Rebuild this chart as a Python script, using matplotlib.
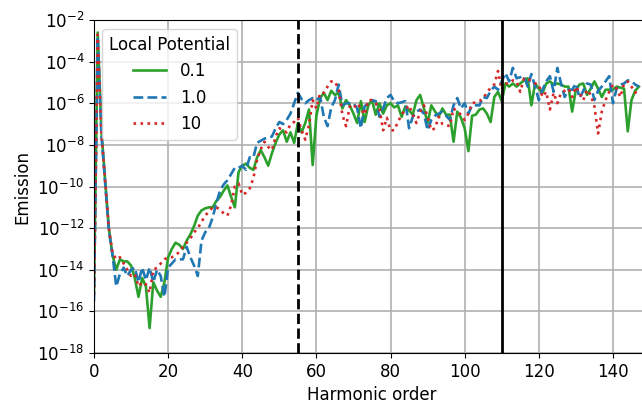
import numpy as np
import matplotlib
matplotlib.use("Agg")
import matplotlib.pyplot as plt
from matplotlib.ticker import NullLocator

# harmonic order and log10(emission)
harmonic = np.arange(0, 148)

log_v01 = [
    -15.0, -2.6, -7.3, -9.7, -12.0, -13.3, -14.0, -13.5, -13.6, -13.6,
    -13.8, -14.4, -15.3, -14.4, -14.8, -16.8, -14.6, -15.0, -15.3, -14.6,
    -13.4, -13.0, -12.7, -12.8, -13.0, -12.6, -12.3, -11.9, -11.4, -11.15,
    -11.05, -11.0, -11.0, -10.7, -10.5, -10.2, -9.95, -10.5, -11.0, -9.3,
    -9.0, -8.9, -9.1, -9.2, -8.6, -8.25, -8.6, -9.0, -8.4, -7.9,
    -7.5, -7.3, -7.85, -7.4, -7.9, -6.95, -7.4, -6.95, -6.3, -8.97,
    -6.6, -5.75, -5.5, -5.85, -5.4, -5.6, -5.5, -6.25, -5.85, -6.1,
    -6.5, -6.95, -5.9, -6.9, -6.1, -5.85, -6.55, -6.0, -6.5, -6.1,
    -6.0, -6.2, -6.1, -6.65, -6.15, -6.35, -6.55, -5.85, -5.6, -6.25,
    -6.95, -6.1, -6.4, -6.65, -6.25, -6.55, -6.55, -7.85, -6.4, -6.7,
    -7.2, -8.3, -6.6, -6.55, -6.3, -6.25, -6.5, -6.9, -5.7, -5.45,
    -5.9, -5.05, -5.2, -5.05, -5.2, -5.05, -4.9, -4.8, -6.1, -5.05,
    -5.3, -5.5, -5.05, -4.95, -5.1, -5.05, -5.1, -5.2, -5.2, -6.4,
    -5.35, -5.1, -5.05, -5.6, -5.3, -4.95, -5.3, -5.7, -5.35, -5.35,
    -5.35, -5.2, -5.25, -5.3, -7.35, -5.85, -5.4, -5.2,
]

log_v1 = [
    -15.5, -2.8, -7.5, -9.8, -12.1, -13.3, -14.8, -14.2, -13.9, -14.3,
    -14.0, -13.9, -14.6, -13.9, -14.5, -13.9, -14.6, -14.0, -14.3, -15.3,
    -13.9, -13.7, -13.5, -13.5, -13.5, -12.9, -13.4, -13.8, -14.3, -12.6,
    -12.2, -12.0, -11.5, -10.8, -10.2, -9.9, -9.7, -9.4, -9.1, -9.1,
    -9.0, -9.2, -8.6, -8.6, -7.9, -7.8, -7.7, -7.65, -7.6, -7.2,
    -6.9, -7.0, -6.8, -6.5, -6.0, -5.5, -5.8, -6.0, -5.85, -5.75,
    -5.85, -5.7, -6.65, -7.1, -6.2, -5.85, -5.1, -6.1, -6.0, -6.0,
    -6.0, -6.25, -7.2, -6.15, -6.0, -5.85, -5.9, -6.65, -6.25, -5.75,
    -5.6, -5.9, -6.0, -5.95, -5.9, -7.2, -6.65, -6.4, -6.3, -6.5,
    -7.3, -6.8, -6.6, -6.5, -6.4, -6.6, -6.8, -6.1, -5.75, -6.25,
    -6.0, -6.5, -6.1, -6.1, -6.1, -5.7, -5.75, -5.4, -5.2, -5.35,
    -4.95, -4.55, -4.95, -4.3, -4.8, -4.75, -4.7, -5.2, -4.6, -5.2,
    -5.85, -5.35, -4.95, -4.7, -5.45, -4.3, -5.05, -5.7, -5.35, -5.35,
    -5.05, -5.75, -5.4, -5.05, -5.1, -5.85, -5.4, -5.2, -4.95, -4.7,
    -6.0, -5.3, -5.1, -5.05, -4.9, -4.95, -5.1, -5.2,
]

log_v10 = [
    -15.2, -2.7, -7.4, -9.7, -12.0, -13.2, -13.5, -13.4, -13.7, -14.0,
    -14.3, -14.2, -14.8, -14.6, -14.7, -15.1, -14.0, -13.9, -13.7, -13.5,
    -13.4, -13.4, -13.3, -13.15, -12.9, -12.7, -12.5, -12.2, -12.0, -11.7,
    -11.4, -11.2, -11.0, -11.0, -11.1, -11.3, -11.4, -10.9, -10.0, -9.85,
    -10.4, -10.3, -10.1, -9.6, -8.7, -8.2, -7.85, -8.1, -8.25, -7.6,
    -7.2, -7.3, -7.4, -7.0, -6.9, -6.7, -7.3, -7.75, -7.05, -5.85,
    -6.25, -5.5, -5.5, -5.2, -4.95, -4.95, -5.35, -6.55, -7.1, -6.15,
    -6.25, -6.0, -6.25, -6.55, -5.85, -5.85, -6.0, -6.25, -7.3, -6.7,
    -7.3, -7.3, -6.9, -6.55, -6.3, -6.1, -6.55, -6.95, -6.4, -6.1,
    -6.65, -7.3, -7.2, -6.65, -7.0, -7.05, -7.1, -6.25, -6.4, -6.55,
    -6.8, -6.5, -6.0, -5.95, -5.9, -5.75, -5.5, -5.25, -5.1, -4.45,
    -5.35, -5.05, -5.05, -4.9, -4.95, -5.45, -4.8, -4.85, -4.9, -5.05,
    -5.1, -5.7, -5.45, -6.3, -5.5, -6.0, -5.5, -5.4, -5.3, -5.7,
    -5.2, -5.5, -5.85, -5.35, -5.6, -6.15, -7.45, -6.4, -5.85, -5.45,
    -5.1, -5.3, -5.7, -5.05, -4.95, -5.2, -5.5, -5.3,
]

labels = ["0.1", "1.0", "10"]
cutoff_dashed = 55
cutoff_solid = 110

plt.rcParams['font.size'] = 12

fig = plt.figure(figsize=(6.42, 4.05), dpi=100)
ax = fig.add_axes([94 / 642, 52 / 405, 556 / 642, 333 / 405])

ax.plot(harmonic, 10.0 ** np.array(log_v01), color="tab:green", lw=1.9, ls="-", label=labels[0])
ax.plot(harmonic, 10.0 ** np.array(log_v1), color="tab:blue", lw=1.9, ls="--", label=labels[1])
ax.plot(harmonic, 10.0 ** np.array(log_v10), color="tab:red", lw=1.9, ls=":", label=labels[2])

ax.axvline(cutoff_dashed, color="black", ls="--", lw=2)
ax.axvline(cutoff_solid, color="black", ls="-", lw=2)

ax.set_yscale("log")
ax.set_ylim(1e-18, 1e-2)
ax.set_xlim(0, 150)
ax.set_yticks(10.0 ** np.arange(-18, -1, 2))
ax.yaxis.set_minor_locator(NullLocator())
ax.set_xticks(np.arange(0, 141, 20))
ax.grid(True, color="#b0b0b0", lw=1.2)
ax.set_xlabel("Harmonic order")
ax.set_ylabel("Emission")

ax.legend(title="Local Potential", loc="upper left", bbox_to_anchor=(0.0, 0.997),
          fontsize=12, title_fontsize=12)

fig.savefig("out.png", dpi=100)
